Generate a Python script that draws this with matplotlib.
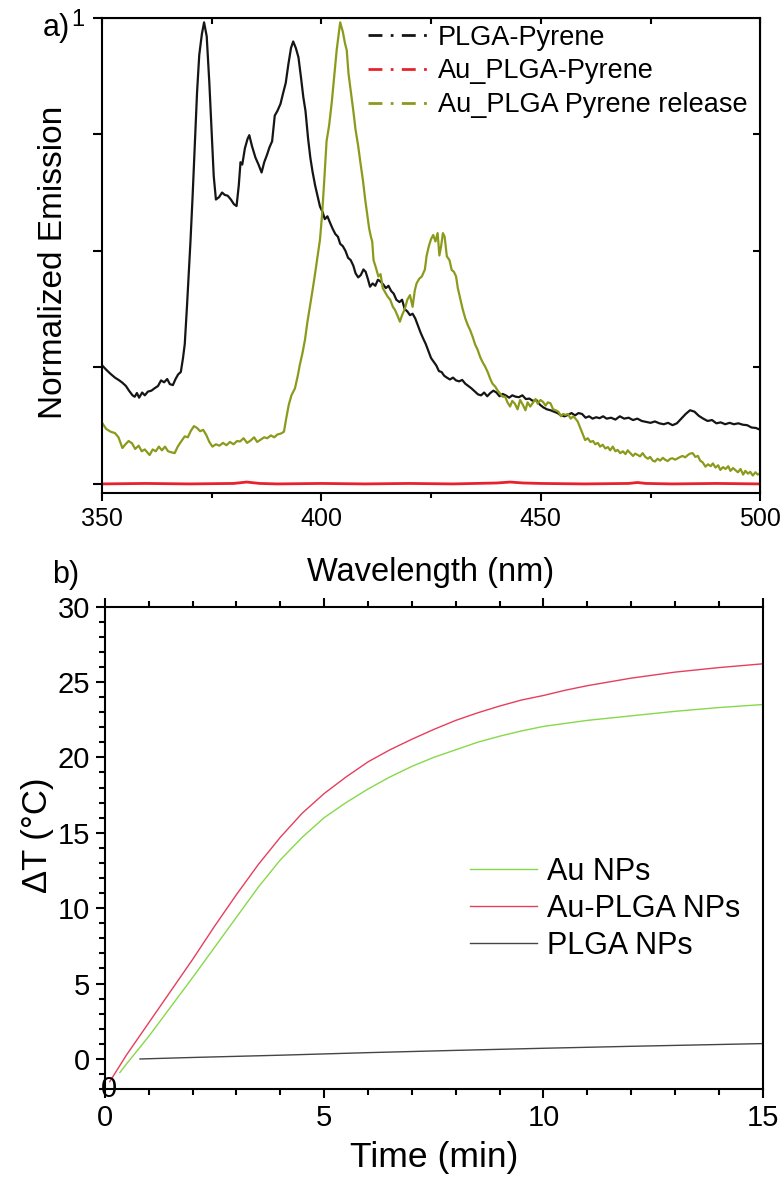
import matplotlib
matplotlib.use("Agg")
import matplotlib.pyplot as plt
from matplotlib.lines import Line2D
from matplotlib.ticker import MultipleLocator, FixedLocator, FuncFormatter

plt.rcParams['font.family'] = ['Liberation Sans', 'DejaVu Sans']

# ---- panel a: emission spectra ----
wl_black = [350, 351, 352, 353, 354, 354.7, 355.5, 356.2, 357, 357.5, 358, 358.5, 359.2, 359.8,
            360.5, 361.3, 362, 362.8, 363.5, 364.2, 364.9, 365.5, 366.2, 366.8, 367.4, 368, 368.5,
            368.9, 369.4, 369.8, 370.2, 370.7, 371.2, 371.7, 372.2, 372.8, 373.3, 373.9, 374.5, 375,
            375.5, 376, 376.7, 377.4, 378, 378.7, 379.4, 380.1, 380.7, 381.2, 381.6, 382, 382.6,
            383.2, 383.6, 384.2, 385, 385.7, 386.4, 387, 387.6, 388.2, 388.8, 389.4, 390, 390.7,
            391.3, 391.9, 392.5, 393.1, 393.6, 394.2, 394.8, 395.4, 395.9, 396.4, 397, 397.5, 398,
            398.6, 399.2, 399.7, 400.3, 400.8, 401.4, 402, 402.6, 403.2, 403.8, 404.3, 404.9, 405.5,
            406.1, 406.7, 407.3, 407.8, 408.4, 409, 409.6, 410.1, 410.6, 411.1, 411.7, 412.3, 412.9,
            413.5, 414.1, 414.7, 415.3, 415.9, 416.5, 417.1, 417.8, 418.4, 419, 419.6, 420.2, 420.8,
            421.4, 422, 422.6, 423.2, 423.8, 424.4, 425, 425.6, 426.2, 426.8, 427.4, 428, 428.6,
            429.3, 430, 430.7, 431.4, 432.1, 432.8, 433.5, 434.2, 435, 435.7, 436.4, 437.1, 437.8,
            438.5, 439.2, 439.9, 440.6, 441.3, 442, 442.8, 443.5, 444.3, 445, 445.8, 446.6, 447.4,
            448.2, 449, 449.8, 450.6, 451.4, 452.2, 453, 453.8, 454.6, 455.4, 456.2, 457, 457.8,
            458.6, 459.4, 460.2, 461, 461.8, 462.6, 463.4, 464.2, 465, 466, 467, 468, 469, 470, 471,
            472, 473, 474, 475, 476, 477, 478, 479, 480, 481, 482, 483, 484, 485, 486, 487, 488, 489,
            490, 491, 492, 493, 494, 495, 496, 497, 498, 499, 500]
em_black = [0.255, 0.245, 0.236, 0.228, 0.222, 0.217, 0.21, 0.2, 0.19, 0.187, 0.195, 0.185, 0.196, 0.19,
            0.198, 0.2, 0.205, 0.21, 0.222, 0.218, 0.225, 0.214, 0.212, 0.225, 0.235, 0.24, 0.27,
            0.3, 0.38, 0.45, 0.52, 0.62, 0.73, 0.84, 0.92, 0.965, 0.99, 0.96, 0.86, 0.76,
            0.66, 0.61, 0.615, 0.625, 0.62, 0.618, 0.61, 0.6, 0.596, 0.64, 0.69, 0.685, 0.72,
            0.74, 0.748, 0.725, 0.7, 0.685, 0.668, 0.69, 0.705, 0.722, 0.735, 0.79, 0.8, 0.815,
            0.838, 0.86, 0.9, 0.935, 0.949, 0.935, 0.915, 0.87, 0.83, 0.8, 0.74, 0.7, 0.67,
            0.64, 0.615, 0.595, 0.583, 0.568, 0.574, 0.56, 0.547, 0.536, 0.53, 0.515, 0.51, 0.5,
            0.485, 0.48, 0.468, 0.452, 0.443, 0.448, 0.46, 0.455, 0.44, 0.423, 0.43, 0.425, 0.438,
            0.434, 0.428, 0.42, 0.425, 0.414, 0.408, 0.395, 0.39, 0.395, 0.375, 0.37, 0.362, 0.365,
            0.355, 0.34, 0.325, 0.312, 0.3, 0.285, 0.27, 0.262, 0.254, 0.242, 0.24, 0.232, 0.228,
            0.224, 0.228, 0.222, 0.22, 0.223, 0.215, 0.21, 0.205, 0.198, 0.192, 0.19, 0.196, 0.188,
            0.195, 0.2, 0.196, 0.188, 0.193, 0.19, 0.185, 0.19, 0.187, 0.186, 0.19, 0.182, 0.183,
            0.178, 0.18, 0.17, 0.164, 0.16, 0.158, 0.155, 0.152, 0.147, 0.145, 0.148, 0.152, 0.147,
            0.152, 0.15, 0.142, 0.145, 0.14, 0.143, 0.141, 0.145, 0.14, 0.142, 0.138, 0.145, 0.14, 0.142, 0.137,
            0.14, 0.135, 0.133, 0.131, 0.134, 0.13, 0.128, 0.131, 0.126, 0.13, 0.14, 0.15, 0.158, 0.155, 0.146, 0.14, 0.135, 0.137,
            0.13, 0.132, 0.128, 0.131, 0.128, 0.13, 0.127, 0.126, 0.121, 0.12, 0.116]

wl_olive = [350, 351, 352, 353, 353.8, 354.7, 355.4, 356.1, 356.9, 357.6, 358.4, 359.1, 359.8, 360.5,
            360.9, 361.6, 362.3, 363, 363.7, 364.4, 365.1, 365.8, 366.6, 367.3, 368, 368.9, 369.6,
            370.3, 371, 371.7, 372.4, 373.1, 373.8, 374.5, 375.2, 376, 376.8, 377.6, 378.4, 379.2,
            380, 380.8, 381.5, 382.3, 383.1, 383.9, 384.7, 385.4, 386.2, 387, 387.7, 388.5, 389.3,
            390, 390.8, 391.5, 392, 392.6, 393.2, 394, 394.6, 395.1, 395.7, 396.3, 396.8, 397.4,
            398, 398.6, 399.1, 399.7, 400.2, 400.7, 401.2, 401.8, 402.4, 402.9, 403.5, 404.3, 404.9,
            405.4, 405.8, 406.2, 406.9, 407.3, 407.8, 408.4, 408.9, 409.5, 410, 410.5, 410.9, 411.3,
            411.6, 411.9, 412.4, 413, 413.5, 414, 414.6, 415.1, 415.7, 416.3, 416.8, 417.4, 417.9,
            418.4, 419, 419.6, 420.2, 420.8, 421.3, 421.7, 422.3, 422.9, 423.6, 424, 424.5, 425,
            425.5, 426, 426.5, 426.9, 427.3, 427.7, 428.1, 428.6, 429.2, 429.7, 430.2, 430.7, 431.1,
            431.6, 432.2, 432.8, 433.4, 433.9, 434.5, 435, 435.6, 436.2, 436.7, 437.3, 437.9, 438.5,
            439, 439.6, 440.2, 440.8, 441.3, 441.9, 442.4, 443, 443.5, 444.1, 444.7, 445.3, 445.9,
            446.5, 447, 447.6, 448.2, 448.8, 449.3, 449.9, 450.5, 451.1, 451.6, 452.2, 452.8, 453.4,
            454, 454.6, 455.1, 455.6, 456.2, 456.8, 457.4, 457.9, 458.4, 459, 459.5, 460.1, 460.7,
            461.3, 461.9, 462.4, 463, 463.5, 464.1, 464.7, 465.3, 465.8, 466.4, 467, 467.5, 468.1,
            468.7, 469.3, 469.8, 470.4, 471, 471.5, 472.1, 472.6, 473.2, 473.8, 474.4, 474.9, 475.5,
            476, 476.6, 477.2, 477.8, 478.3, 478.9, 479.5, 480, 480.6, 481.2, 481.8, 482.3, 482.9,
            483.5, 484, 484.6, 485.2, 485.8, 486.3, 486.9, 487.5, 488.1, 488.7, 489.2, 489.8, 490.4,
            490.9, 491.5, 492.1, 492.7, 493.2, 493.8, 494.3, 494.9, 495.5, 496.1, 496.6, 497.2,
            497.7, 498.3, 498.9, 499.4, 500]
em_olive = [0.132, 0.118, 0.112, 0.109, 0.1, 0.077, 0.085, 0.092, 0.087, 0.075, 0.082, 0.07, 0.074, 0.066,
            0.062, 0.074, 0.07, 0.08, 0.072, 0.08, 0.07, 0.068, 0.066, 0.08, 0.09, 0.102, 0.1,
            0.114, 0.124, 0.12, 0.113, 0.116, 0.105, 0.09, 0.08, 0.085, 0.082, 0.088, 0.083, 0.09,
            0.085, 0.092, 0.091, 0.098, 0.088, 0.093, 0.1, 0.09, 0.095, 0.1, 0.098, 0.104, 0.1,
            0.106, 0.108, 0.112, 0.14, 0.17, 0.19, 0.205, 0.23, 0.255, 0.28, 0.31, 0.345, 0.38,
            0.415, 0.452, 0.485, 0.524, 0.58, 0.655, 0.735, 0.77, 0.82, 0.87, 0.93, 0.99, 0.97,
            0.945, 0.93, 0.88, 0.83, 0.8, 0.76, 0.725, 0.69, 0.65, 0.61, 0.575, 0.548, 0.53,
            0.52, 0.48, 0.465, 0.445, 0.45, 0.42, 0.41, 0.402, 0.395, 0.38, 0.373, 0.36, 0.348,
            0.362, 0.375, 0.395, 0.405, 0.38, 0.415, 0.43, 0.44, 0.445, 0.46, 0.49, 0.51, 0.525,
            0.534, 0.52, 0.538, 0.49, 0.51, 0.538, 0.53, 0.488, 0.48, 0.459, 0.455, 0.445, 0.42,
            0.4, 0.375, 0.355, 0.34, 0.33, 0.315, 0.3, 0.288, 0.272, 0.262, 0.252, 0.24, 0.225,
            0.215, 0.209, 0.2, 0.193, 0.187, 0.187, 0.175, 0.166, 0.178, 0.172, 0.16, 0.18, 0.17,
            0.158, 0.175, 0.166, 0.174, 0.182, 0.172, 0.18, 0.176, 0.168, 0.175, 0.173, 0.16, 0.158,
            0.155, 0.145, 0.15, 0.148, 0.15, 0.14, 0.145, 0.14, 0.134, 0.12, 0.108, 0.094, 0.098,
            0.09, 0.092, 0.085, 0.088, 0.08, 0.084, 0.076, 0.079, 0.072, 0.08, 0.07, 0.073, 0.066,
            0.07, 0.064, 0.072, 0.066, 0.06, 0.065, 0.062, 0.059, 0.066, 0.058, 0.054, 0.058, 0.05,
            0.048, 0.054, 0.05, 0.056, 0.052, 0.049, 0.054, 0.055, 0.052, 0.055, 0.058, 0.06, 0.057,
            0.062, 0.065, 0.066, 0.058, 0.06, 0.05, 0.046, 0.037, 0.042, 0.038, 0.044, 0.035, 0.04,
            0.03, 0.036, 0.032, 0.038, 0.028, 0.034, 0.03, 0.025, 0.032, 0.02, 0.028, 0.022,
            0.026, 0.018, 0.025, 0.02, 0.023]

wl_red = [350, 360, 370, 380, 383, 386, 390, 400, 410, 420, 430, 440, 443, 446, 450, 460, 470, 472, 474, 480, 490, 500]
em_red = [0.0, 0.001, 0.0, 0.001, 0.004, 0.001, 0.0, 0.001, 0.0, 0.001, 0.0, 0.002, 0.004, 0.002, 0.001,
          0.0, 0.001, 0.003, 0.001, 0.0, 0.001, 0.0]

legend_a = ["PLGA-Pyrene", "Au_PLGA-Pyrene", "Au_PLGA Pyrene release"]

# ---- panel b: heating curves ----
t_auplga = [0.11, 0.5, 1, 1.5, 2, 2.5, 3, 3.5, 4, 4.5, 5, 5.5, 6, 6.5, 7, 7.5, 8, 8.5, 9, 9.5, 10,
            10.5, 11, 12, 13, 14, 15]
dT_auplga = [-1.5, 0.3, 2.4, 4.5, 6.6, 8.8, 10.9, 12.9, 14.7, 16.3, 17.6, 18.7, 19.7, 20.5, 21.2,
             21.85, 22.45, 22.95, 23.4, 23.8, 24.1, 24.45, 24.75, 25.25, 25.65, 25.95, 26.2]
t_au = [0.34, 0.5, 1, 1.5, 2, 2.5, 3, 3.5, 4, 4.5, 5, 5.5, 6, 6.5, 7, 7.5, 8, 8.5, 9, 9.5, 10,
        10.5, 11, 12, 13, 14, 15]
dT_au = [-0.9, -0.3, 1.5, 3.45, 5.4, 7.4, 9.4, 11.4, 13.2, 14.7, 16.0, 17.0, 17.9, 18.7, 19.4,
         20.0, 20.5, 21.0, 21.4, 21.75, 22.05, 22.25, 22.45, 22.75, 23.05, 23.3, 23.5]
t_plga = [0.8, 2, 4, 6, 8, 10, 12, 14, 15]
dT_plga = [0.0, 0.1, 0.25, 0.42, 0.57, 0.71, 0.84, 0.96, 1.02]

fig = plt.figure(figsize=(7.83, 11.8), dpi=100)

# top panel
ax1 = fig.add_axes([0.130, 0.582, 0.841, 0.403])
ax1.plot(wl_black, em_black, color="#151515", lw=1.6)
ax1.plot(wl_olive, em_olive, color="#8c9a1c", lw=1.6)
ax1.plot(wl_red, em_red, color="#e8222c", lw=2.0)
ax1.set_xlim(350, 500)
ax1.set_ylim(-0.02, 1.0)
ax1.xaxis.set_major_locator(MultipleLocator(50))
ax1.xaxis.set_minor_locator(MultipleLocator(25))
ax1.yaxis.set_major_locator(MultipleLocator(0.25))
ax1.yaxis.set_major_formatter(FuncFormatter(lambda v, p: "1" if abs(v - 1) < 1e-6 else ""))
ax1.tick_params(axis="x", which="major", direction="out", length=5.8, width=1.5, labelsize=18, pad=4)
ax1.tick_params(axis="x", which="minor", direction="out", length=3.6, width=1.5)
ax1.tick_params(axis="y", which="major", direction="out", length=6.5, width=1.5, labelsize=17, pad=6)
for s in ax1.spines.values():
    s.set_linewidth(1.5)
# inward ticks on top and right spines
secx = ax1.secondary_xaxis("top")
secx.xaxis.set_major_locator(MultipleLocator(25))
secx.tick_params(direction="in", length=4.3, width=1.5, labeltop=False)
secy = ax1.secondary_yaxis("right")
secy.yaxis.set_major_locator(FixedLocator([0.25, 0.5, 0.75]))
secy.tick_params(direction="in", length=5, width=1.5, labelright=False)

ax1.set_xlabel("Wavelength (nm)", fontsize=23.5)
ax1.xaxis.set_label_coords(0.5, -0.135)
ax1.set_ylabel("Normalized Emission", fontsize=24)
ax1.yaxis.set_label_coords(-0.05, 0.486)

handles_a = [Line2D([], [], color=c, lw=2, linestyle=(0, (5, 3, 1, 3)))
             for c in ["#151515", "#e8222c", "#8c9a1c"]]
ax1.legend(handles_a, legend_a, loc="upper left", bbox_to_anchor=(0.404, 0.985), frameon=False,
           fontsize=19.5, handlelength=2.3, handletextpad=0.3, labelspacing=0.28,
           borderpad=0, borderaxespad=0)
fig.text(43 / 783, 1 - 36 / 1180, "a)", fontsize=22, ha="left", va="baseline")

# bottom panel
ax2 = fig.add_axes([0.134, 0.077, 0.840, 0.409])
ax2.plot(t_au, dT_au, color="#86d94a", lw=1.0, label="Au NPs")
ax2.plot(t_auplga, dT_auplga, color="#e63e5c", lw=1.0, label="Au-PLGA NPs")
ax2.plot(t_plga, dT_plga, color="#454545", lw=1.0, label="PLGA NPs")
ax2.set_xlim(0, 15)
ax2.set_ylim(-2, 30)
ax2.xaxis.set_major_locator(MultipleLocator(5))
ax2.xaxis.set_minor_locator(MultipleLocator(1))
ax2.yaxis.set_major_locator(MultipleLocator(5))
ax2.yaxis.set_minor_locator(MultipleLocator(1))
ax2.tick_params(axis="both", which="major", direction="out", length=6.5, width=1.5, labelsize=21, pad=4)
ax2.tick_params(axis="both", which="minor", direction="out", length=4, width=1.5)
ax2.tick_params(axis="x", which="both", top=True)
for s in ax2.spines.values():
    s.set_linewidth(1.5)
ax2.set_xlabel("Time (min)", fontsize=25.5)
ax2.xaxis.set_label_coords(0.5, -0.107)
ax2.set_ylabel("ΔT (°C)", fontsize=25)
ax2.yaxis.set_label_coords(-0.078, 0.527)
ax2.legend(loc="upper left", bbox_to_anchor=(0.555, 0.482), frameon=False, fontsize=22,
           handlelength=2.2, handletextpad=0.33, labelspacing=0.23, borderpad=0, borderaxespad=0)
ax2.text(0.1, -2, "0", fontsize=21, ha="center", va="center")
fig.text(52 / 783, 1 - 583 / 1180, "b)", fontsize=22, ha="left", va="baseline")

plt.savefig("out.png", dpi=100)
